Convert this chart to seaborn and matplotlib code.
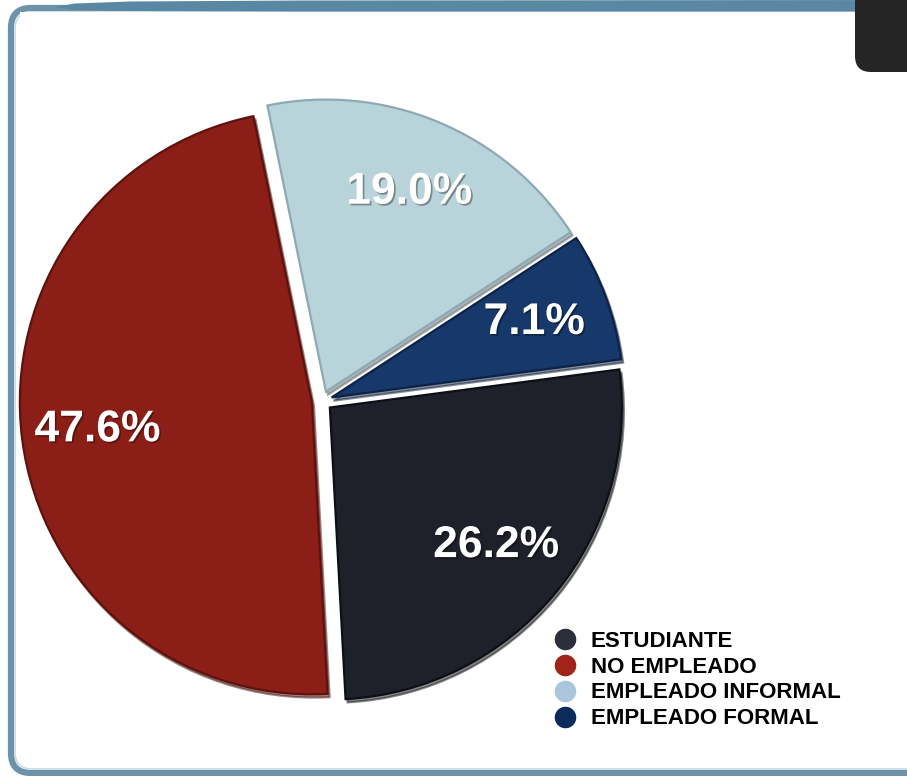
import matplotlib
matplotlib.use("Agg")
import matplotlib.pyplot as plt
import matplotlib.patheffects as pe
from matplotlib.patches import FancyBboxPatch, Polygon
from matplotlib.lines import Line2D
import seaborn as sns

# Occupational status distribution
categories = ["ESTUDIANTE", "NO EMPLEADO", "EMPLEADO INFORMAL", "EMPLEADO FORMAL"]
shares = [26.2, 47.6, 19.0, 7.1]

slice_colors = ["#1e2129", "#8b1f17", "#b9d3da", "#17386b"]
legend_colors = ["#2b2f3b", "#a1241b", "#abc5dc", "#0c2a5b"]
edge_colors = ["#0d0f14", "#5e120d", "#8ea9b3", "#0c2246"]

sns.set_theme(style="white")
plt.rcParams["font.family"] = ["Liberation Sans", "DejaVu Sans"]

W, H = 907, 776
fig = plt.figure(figsize=(W / 100, H / 100), dpi=100)
fig.patch.set_facecolor("white")

# Background card decoration, drawn in pixel coordinates
bg = fig.add_axes([0, 0, 1, 1], zorder=0)
bg.set_xlim(0, W)
bg.set_ylim(H, 0)
bg.axis("off")

card = FancyBboxPatch((11, 8), 960, 765,
                      boxstyle="round,pad=0,rounding_size=20",
                      facecolor="white", edgecolor="#6d93aa", linewidth=4.5)
bg.add_patch(card)
# light inner highlight on the card border
inner = FancyBboxPatch((15, 12), 960, 757,
                       boxstyle="round,pad=0,rounding_size=17",
                       facecolor="none", edgecolor="#c9dbe5", linewidth=1.2)
bg.add_patch(inner)

# tapered header bar
bar = Polygon([(55, 7), (75, 3.5), (130, 1.5), (300, 0.5), (W, 0),
               (W, 11.5), (300, 11.5), (130, 11), (75, 10), (55, 7)],
              closed=True, facecolor="#5a87a1", edgecolor="none")
bg.add_patch(bar)
# white gap covering the card's top edge under the bar
bg.fill_between([20, W], 12, 15.5, color="white", lw=0)

# dark tab in the upper right corner
tab = FancyBboxPatch((855, -40), 90, 112,
                     boxstyle="round,pad=0,rounding_size=16",
                     facecolor="#252525", edgecolor="none")
bg.add_patch(tab)

# Pie axes: centre at (322, 401) px, radius 292 px
cx, cy, r = 322, 401, 292
half = 1.1 * r
ax = fig.add_axes([(cx - half) / W, (H - cy - half) / H, 2 * half / W, 2 * half / H],
                  zorder=2)
ax.patch.set_alpha(0)

wedges, texts, autotexts = ax.pie(
    shares,
    colors=slice_colors,
    startangle=7.5,
    counterclock=False,
    explode=[0.035] * len(shares),
    autopct="%.1f%%",
    pctdistance=0.74,
    shadow={"ox": 0.005, "oy": -0.008, "shade": 0.5},
    wedgeprops={"linewidth": 1.6},
    textprops={"color": "white", "fontsize": 32, "fontweight": "bold"},
)
for w, ec in zip(wedges, edge_colors):
    w.set_edgecolor(ec)
for t, v in zip(autotexts, shares):
    t.set_text(f"{v:.1f}%")
    t.set_path_effects([pe.withSimplePatchShadow(offset=(1.2, -1.2),
                                                 shadow_rgbFace="#000000",
                                                 alpha=0.35)])
ax.set_xlim(-1.1, 1.1)
ax.set_ylim(-1.1, 1.1)
ax.set_aspect("equal")
ax.axis("off")

# Legend with round markers
handles = [Line2D([0], [0], marker="o", linestyle="none", markersize=14.5,
                  markerfacecolor=c, markeredgecolor=c) for c in legend_colors]
fs = 16
leg = fig.legend(handles, categories,
                 loc="center left",
                 bbox_to_anchor=((565 - fs * 100 / 72 * 0.5) / W, 1 - 680 / H),
                 frameon=False, borderpad=0, borderaxespad=0,
                 handlelength=1.0, handletextpad=0.65, labelspacing=0.22,
                 prop={"size": fs, "weight": "bold"})
for t in leg.get_texts():
    t.set_color("black")

fig.savefig("out.png", dpi=100, facecolor="white")
